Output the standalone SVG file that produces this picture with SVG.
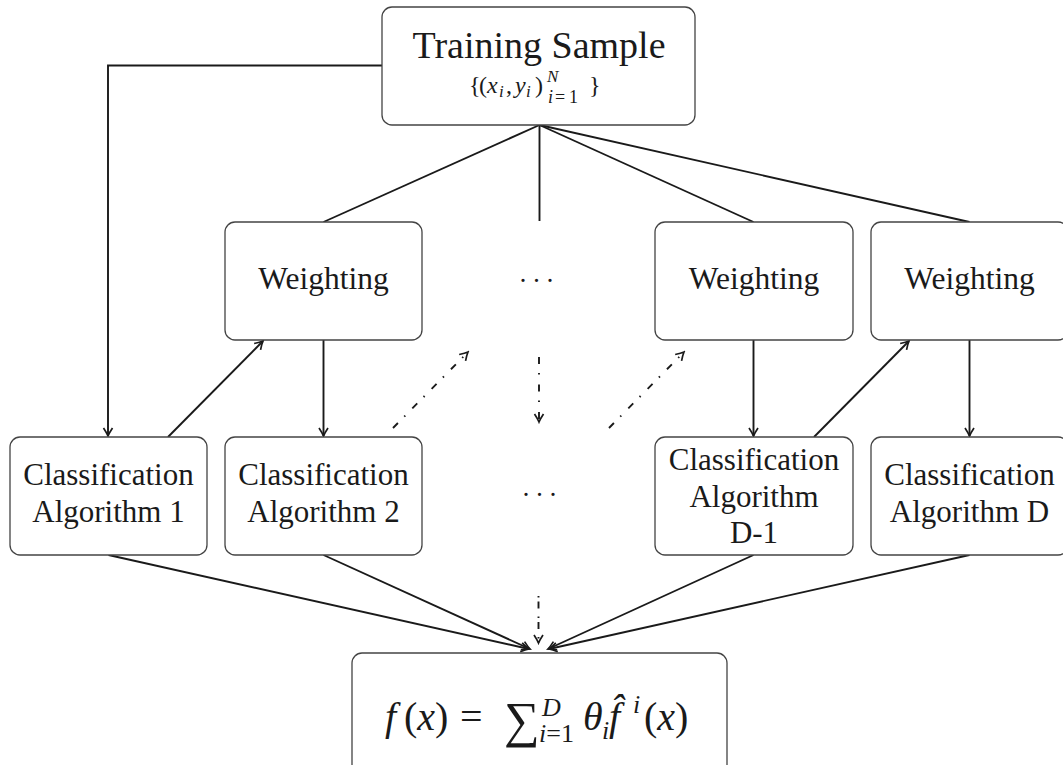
<svg xmlns="http://www.w3.org/2000/svg" width="1063" height="765" viewBox="0 0 1063 765">
<style>
.box{fill:#fff;stroke:#444;stroke-width:1.3}
.ln{fill:none;stroke:#1a1a1a;stroke-width:1.9}
.dd{fill:none;stroke:#1a1a1a;stroke-width:1.9;stroke-dasharray:7 9 1.5 10}
.t{font-family:"Liberation Serif","DejaVu Serif",serif;fill:#1a1a1a;text-anchor:middle}
.m{font-family:"Liberation Serif","DejaVu Serif",serif;fill:#1a1a1a}
.it{font-style:italic}
</style>
<defs>
<marker id="arr" viewBox="-10 -6 12 12" refX="0" refY="0" markerWidth="12" markerHeight="12" orient="auto" markerUnits="userSpaceOnUse">
<path d="M-8,-4.5 Q-3,-1.2 0,0 Q-3,1.2 -8,4.5" fill="none" stroke="#1a1a1a" stroke-width="1.7"/>
</marker>
</defs>
<rect width="1063" height="765" fill="#fff"/>
<g id="connectors">
<polyline class="ln" points="382,65.5 108,65.5 108,436" marker-end="url(#arr)"/>
<line class="ln" x1="539.5" y1="125" x2="323.5" y2="222"/>
<line class="ln" x1="539.5" y1="125" x2="539.5" y2="221"/>
<line class="ln" x1="539.5" y1="125" x2="753.5" y2="222"/>
<line class="ln" x1="539.5" y1="125" x2="969.5" y2="222"/>
<line class="ln" x1="323.5" y1="340" x2="323.5" y2="436" marker-end="url(#arr)"/>
<line class="ln" x1="753.5" y1="340" x2="753.5" y2="436" marker-end="url(#arr)"/>
<line class="ln" x1="969.5" y1="340" x2="969.5" y2="436" marker-end="url(#arr)"/>
<line class="ln" x1="168" y1="437" x2="263" y2="341" marker-end="url(#arr)"/>
<line class="ln" x1="814" y1="437" x2="909" y2="341" marker-end="url(#arr)"/>
<line class="dd" x1="393" y1="428" x2="468" y2="352" marker-end="url(#arr)"/>
<line class="dd" x1="609" y1="428" x2="684" y2="352" marker-end="url(#arr)"/>
<line class="dd" x1="539" y1="357" x2="539" y2="422" marker-end="url(#arr)"/>
<line class="dd" x1="538.5" y1="596" x2="538.5" y2="643" marker-end="url(#arr)" style="stroke-dasharray:1.5 4 7 8"/>
<line class="ln" x1="108.5" y1="555" x2="529" y2="649" marker-end="url(#arr)"/>
<line class="ln" x1="323.5" y1="555" x2="530" y2="649" marker-end="url(#arr)"/>
<line class="ln" x1="753.5" y1="555" x2="548" y2="649" marker-end="url(#arr)"/>
<line class="ln" x1="969.5" y1="555" x2="549" y2="649" marker-end="url(#arr)"/>
</g>
<g id="training">
<rect class="box" x="382" y="7" width="313" height="118" rx="10"/>
<text class="t" x="539" y="58" font-size="38">Training Sample</text>
<text class="m" font-size="24"><tspan x="469" y="93">{</tspan><tspan x="479" y="93">(</tspan><tspan x="487" y="93" class="it">x</tspan><tspan x="499" y="97" font-size="17" class="it">i</tspan><tspan x="506" y="93">,</tspan><tspan x="515" y="93" class="it">y</tspan><tspan x="526" y="97" font-size="17" class="it">i</tspan><tspan x="535" y="93">)</tspan><tspan x="589" y="93">}</tspan></text>
<text class="m it" font-size="17" x="547" y="82">N</text>
<text class="m" font-size="18"><tspan x="548" y="103" class="it">i</tspan><tspan x="555" y="103">=</tspan><tspan x="569" y="103">1</tspan></text>
</g>
<g id="weighting1">
<rect class="box" x="225" y="222" width="197" height="118" rx="10"/>
<text class="t" x="323.5" y="289" font-size="31.5">Weighting</text>
</g>
<g id="weighting-d1">
<rect class="box" x="655" y="222" width="198" height="118" rx="10"/>
<text class="t" x="754" y="289" font-size="31.5">Weighting</text>
</g>
<g id="weighting-d">
<rect class="box" x="871" y="222" width="197" height="118" rx="10"/>
<text class="t" x="969.5" y="289" font-size="31.5">Weighting</text>
</g>
<g id="dots-top">
<text class="t" font-size="27" x="523 536.5 550" y="290">···</text>
</g>
<g id="dots-mid">
<text class="t" font-size="27" x="526 539.5 553" y="504">···</text>
</g>
<g id="class1">
<rect class="box" x="10" y="437" width="197" height="118" rx="10"/>
<text class="t" font-size="31" x="108.5" y="485">Classification</text>
<text class="t" font-size="31" x="108.5" y="522">Algorithm 1</text>
</g>
<g id="class2">
<rect class="box" x="225" y="437" width="197" height="118" rx="10"/>
<text class="t" font-size="31" x="323.5" y="485">Classification</text>
<text class="t" font-size="31" x="323.5" y="522">Algorithm 2</text>
</g>
<g id="class-d1">
<rect class="box" x="655" y="437" width="198" height="118" rx="10"/>
<text class="t" font-size="31" x="754" y="470">Classification</text>
<text class="t" font-size="31" x="754" y="507">Algorithm</text>
<text class="t" font-size="31" x="754" y="543">D-1</text>
</g>
<g id="class-d">
<rect class="box" x="871" y="437" width="197" height="118" rx="10"/>
<text class="t" font-size="31" x="969.5" y="485">Classification</text>
<text class="t" font-size="31" x="969.5" y="522">Algorithm D</text>
</g>
<g id="result">
<rect class="box" x="352" y="653" width="375" height="130" rx="10"/>
<text class="m" font-size="40"><tspan x="385" y="730" class="it">f</tspan><tspan x="404" y="730">(</tspan><tspan class="it">x</tspan><tspan>)</tspan><tspan x="460" y="730">=</tspan></text>
<text class="m" font-size="50" x="504" y="737">∑</text>
<text class="m" font-size="26"><tspan x="542" y="716" class="it">D</tspan><tspan x="539" y="742" class="it">i</tspan><tspan>=1</tspan></text>
<text class="m it" font-size="40" x="583" y="730">θ</text>
<text class="m it" font-size="26" x="602" y="739">i</text>
<text class="m it" font-size="40" x="609" y="730">f̂</text>
<text class="m it" font-size="26" x="633" y="713">i</text>
<text class="m" font-size="40"><tspan x="644" y="730">(</tspan><tspan class="it">x</tspan><tspan>)</tspan></text>
</g>
</svg>
